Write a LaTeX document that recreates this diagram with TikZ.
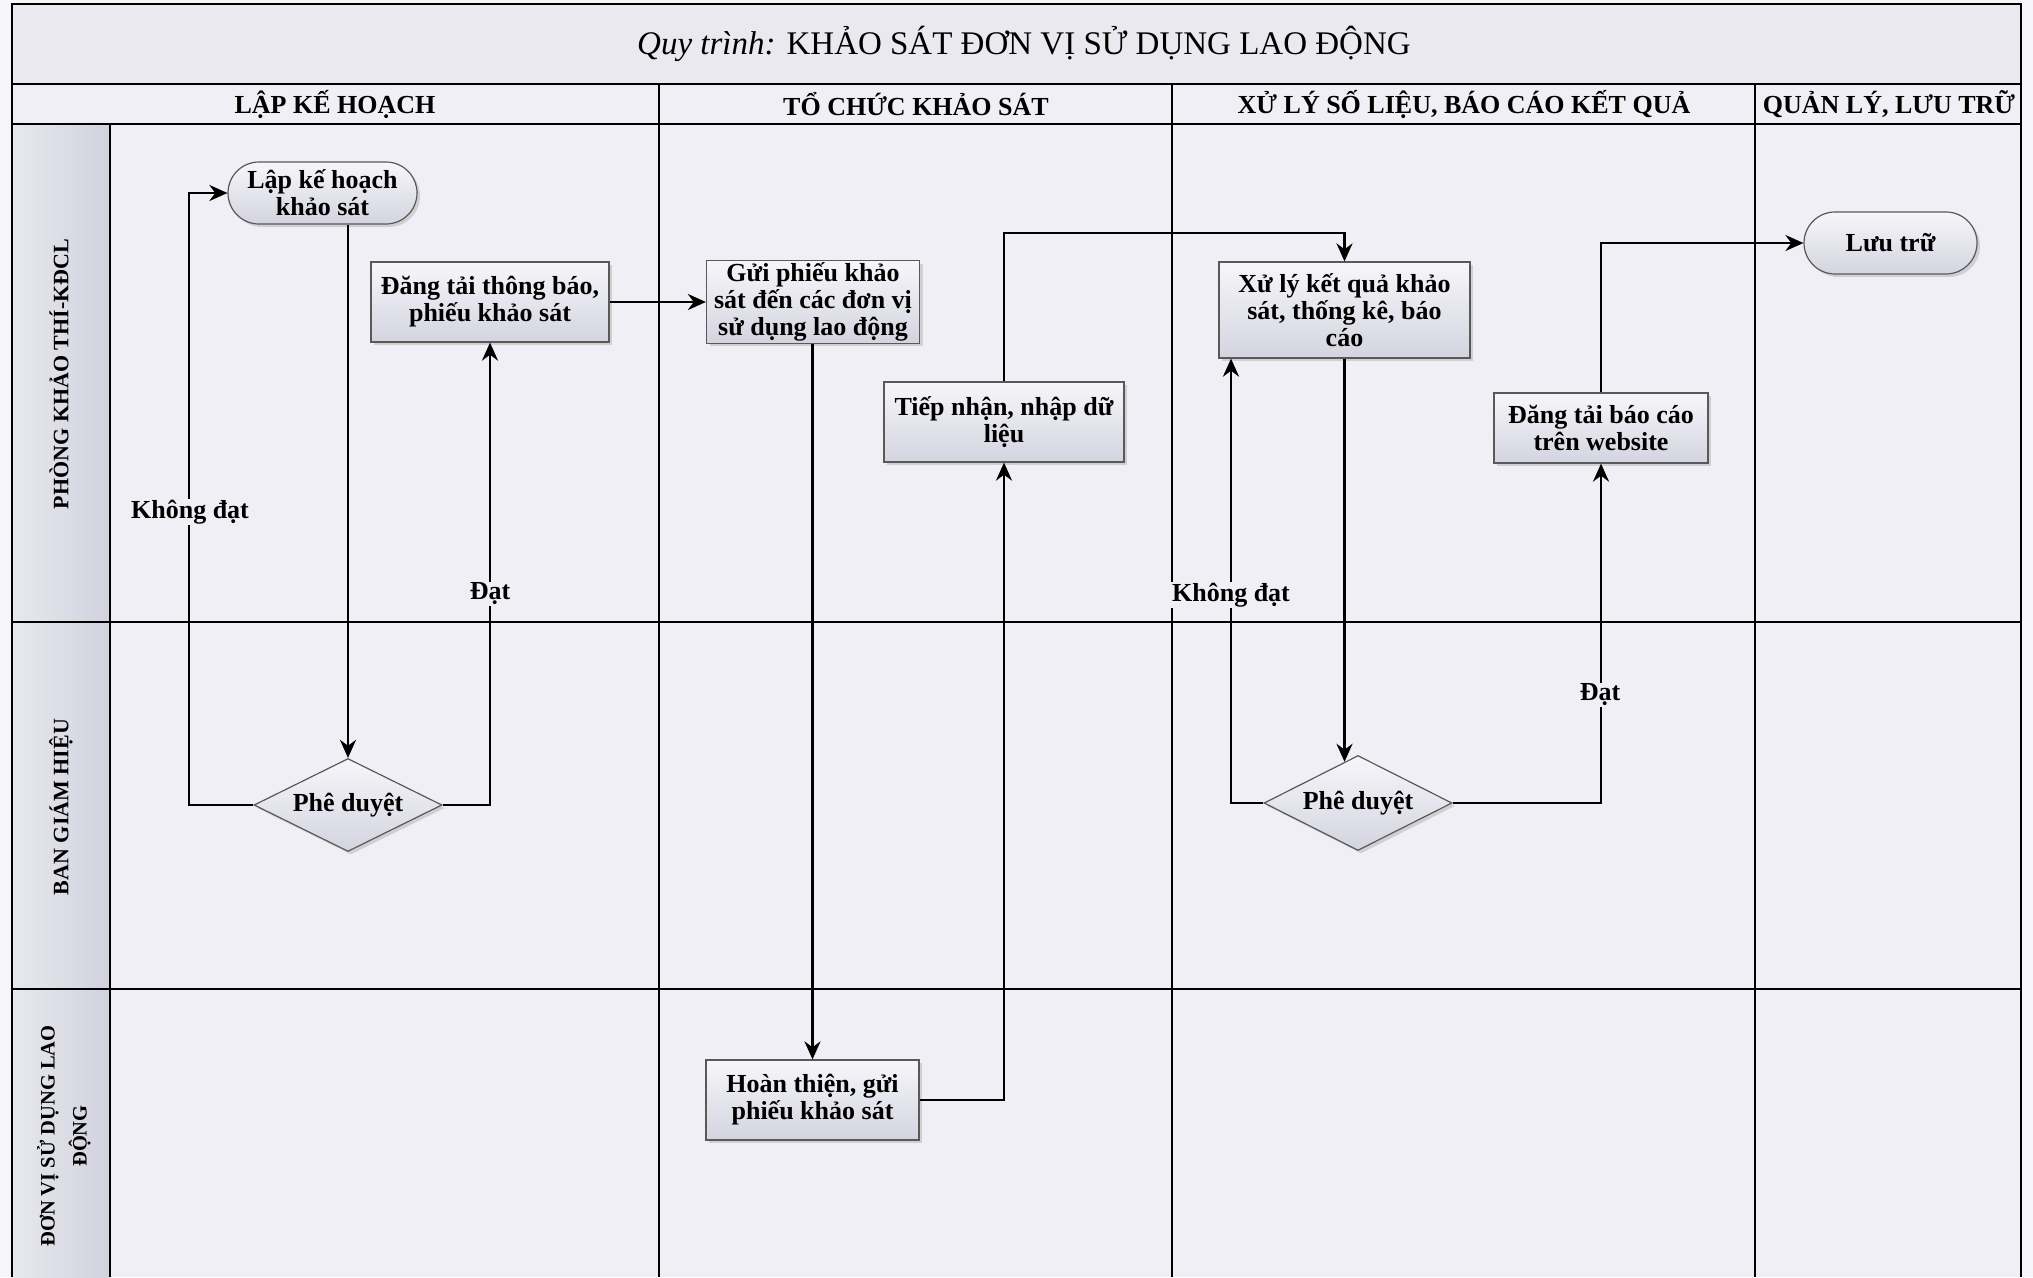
\documentclass[tikz,border=0pt]{standalone}
\usepackage{fontspec}
\setmainfont{Liberation Serif}
\usetikzlibrary{shapes.geometric,shapes.misc,shadows,arrows.meta,calc}
\definecolor{pagebg}{RGB}{246,246,249}
\definecolor{bg}{RGB}{239,239,245}
\definecolor{titlebg}{RGB}{233,233,239}
\definecolor{lanel}{RGB}{232,232,239}
\definecolor{laner}{RGB}{210,210,222}
\definecolor{boxtop}{RGB}{246,246,250}
\definecolor{boxbot}{RGB}{212,212,224}
\newcommand{\nodefont}{\fontsize{26}{27}\selectfont\bfseries}
\newcommand{\hdrfont}{\fontsize{26}{28}\selectfont\bfseries}
\newcommand{\lanefont}{\fontsize{22}{30}\selectfont\bfseries}
\begin{document}
\begin{tikzpicture}[x=1pt,y=-1pt,
  box/.style={draw=black!65, line width=1.2pt, top color=boxtop, bottom color=boxbot,
    drop shadow={shadow xshift=3pt,shadow yshift=-3pt,fill=black!30},
    align=center, font=\nodefont, inner sep=2pt},
  term/.style={box, rounded rectangle, rounded rectangle arc length=180},
  dec/.style={box, diamond, aspect=2, inner sep=0pt},
  arr/.style={line width=2.6pt, -{Stealth[length=18pt,width=16pt]}},
  lbl/.style={fill=bg, font=\nodefont, inner sep=1pt},
  grid/.style={line width=2.3pt, black},
  hdr/.style={font=\hdrfont, inner sep=0pt},
  lane/.style={font=\lanefont, rotate=90, align=center, inner sep=0pt}]
\useasboundingbox (0,0) rectangle (2033,1277);
% backgrounds
\fill[pagebg] (0,0) rectangle (2033,1277);
\fill[bg] (12,4) rectangle (2021,1277);
\fill[titlebg] (12,4) rectangle (2021,84);
\shade[left color=lanel, right color=laner] (12,124) rectangle (110,1277);
% grid
\draw[grid] (12,1277) -- (12,4) -- (2021,4) -- (2021,1277);
\draw[grid] (12,84) -- (2021,84);
\draw[grid] (12,124) -- (2021,124);
\draw[grid] (110,124) -- (110,1277);
\draw[grid] (659,84) -- (659,1277);
\draw[grid] (1172,84) -- (1172,1277);
\draw[grid] (1755,84) -- (1755,1277);
\draw[grid] (12,622) -- (2021,622);
\draw[grid] (12,989) -- (2021,989);
% title and headers
\node[inner sep=0pt] (title) at (1024,44) {\fontsize{33}{36}\selectfont\textit{Quy trình:} KHẢO SÁT ĐƠN VỊ SỬ DỤNG LAO ĐỘNG};
\node[hdr] (h1) at (335,104) {LẬP KẾ HOẠCH};
\node[hdr] (h2) at (916,104) {TỔ CHỨC KHẢO SÁT};
\node[hdr] (h3) at (1464,104) {XỬ LÝ SỐ LIỆU, BÁO CÁO KẾT QUẢ};
\node[hdr] (h4) at (1889,104) {QUẢN LÝ, LƯU TRỮ};
% lane labels
\node[lane] (l1) at (59,374) {PHÒNG KHẢO THÍ-KĐCL};
\node[lane] (l2) at (61,807) {BAN GIÁM HIỆU};
\node[lane, font=\fontsize{20.5}{32}\selectfont\bfseries] (l3) at (64,1136) {ĐƠN VỊ SỬ DỤNG LAO\\ĐỘNG};
% nodes
\node[term, minimum width=193pt, minimum height=62pt] (lap) at (322.5,193) {Lập kế hoạch\\khảo sát};
\node[box, minimum width=238pt, minimum height=80pt] (dangtai) at (490,302) {Đăng tải thông báo,\\phiếu khảo sát};
\node[box, minimum width=213pt, minimum height=80pt] (gui) at (813,302) {Gửi phiếu khảo\\sát đến các đơn vị\\sử dụng lao động};
\node[box, minimum width=240pt, minimum height=80pt] (tiep) at (1004,422) {Tiếp nhận, nhập dữ\\liệu};
\node[box, minimum width=251pt, minimum height=96pt] (xuly) at (1344.5,310) {Xử lý kết quả khảo\\sát, thống kê, báo\\cáo};
\node[box, minimum width=214pt, minimum height=70pt] (dangbc) at (1601,428) {Đăng tải báo cáo\\trên website};
\node[term, minimum width=177pt, minimum height=62pt] (luu) at (1890.5,243) {Lưu trữ};
\node[dec, minimum width=188pt, minimum height=93pt] (pd1) at (348,805) {Phê duyệt};
\node[dec, minimum width=188pt, minimum height=95pt] (pd2) at (1358,803) {Phê duyệt};
\node[box, minimum width=213pt, minimum height=80pt] (hoan) at (812.5,1100) {Hoàn thiện, gửi\\phiếu khảo sát};
% helper coordinates
\coordinate (c1) at (189,805);
\coordinate (g1) at (1344.5,233);
\coordinate (c2) at (1231,803);
\coordinate (e2) at ($(pd2.north)!0.1436!(pd2.west)$);
% connectors
\draw[arr] (lap.south -| pd1.north) -- (pd1.north);
\draw[arr] (pd1.west) -- (c1) |- (lap.west);
\draw[arr] (pd1.east) -| (dangtai.south);
\draw[arr] (dangtai.east) -- (gui.west);
\draw[arr] (gui.south -| hoan.north) -- (hoan.north);
\draw[arr] (hoan.east) -| (tiep.south);
\draw[arr] (tiep.north) |- (g1) -- (xuly.north);
\draw[arr] (xuly.south) -- (xuly.south |- e2);
\draw[arr] (pd2.west) -- (c2) -- (c2 |- xuly.south);
\draw[arr] (pd2.east) -| (dangbc.south);
\draw[arr] (dangbc.north) |- (luu.west);
% labels
\node[lbl] (kd1) at (190,512) {Không đạt};
\node[lbl] (d1) at (490,594) {Đạt};
\node[lbl] (kd2) at (1231,595) {Không đạt};
\node[lbl] (d2) at (1600,695) {Đạt};
\end{tikzpicture}
\end{document}
